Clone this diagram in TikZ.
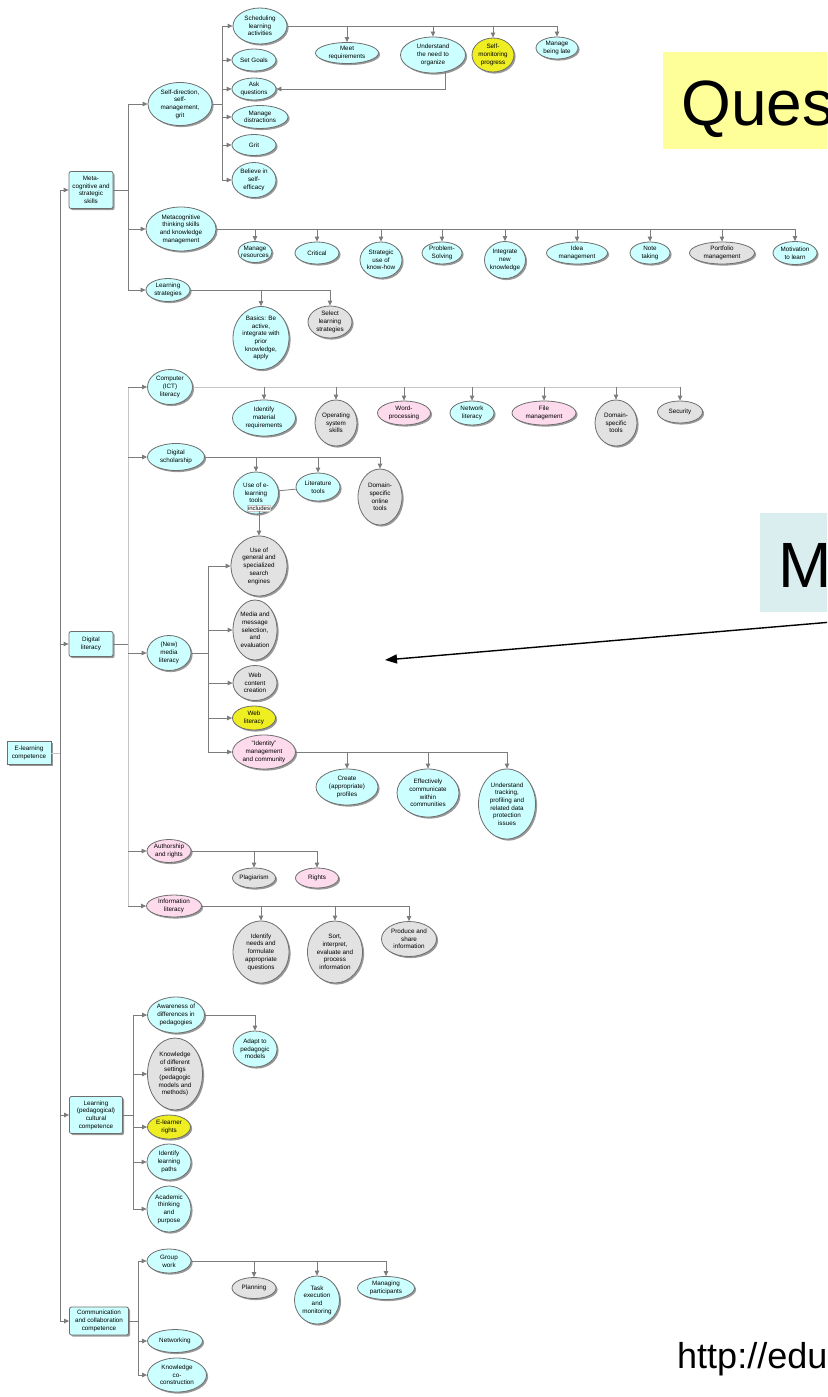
\documentclass[tikz,border=0pt]{standalone}
\usepackage{fontspec}
\setmainfont{Liberation Sans}
\usetikzlibrary{shapes.geometric,shadows,arrows.meta}

\definecolor{topiccyan}{HTML}{CCFFFF}
\definecolor{topicgray}{HTML}{E2E2E2}
\definecolor{topicpink}{HTML}{FDDAEC}
\definecolor{topicyellow}{HTML}{EEEE22}
\definecolor{edgegray}{HTML}{6E6E6E}
\definecolor{linegray}{HTML}{7C7C7C}
\definecolor{palegray}{HTML}{C6C6C6}
\definecolor{quesyellow}{HTML}{FFFF99}
\definecolor{mblue}{HTML}{DAEDEF}

\tikzset{
  topic/.style={ellipse, draw=edgegray, line width=0.8pt, inner sep=-3pt, align=center,
    font=\fontsize{6.3}{7.7}\selectfont,
    drop shadow={shadow xshift=1.6pt, shadow yshift=-1.6pt, fill=black, opacity=0.4}},
  cyn/.style={topic, fill=topiccyan},
  gry/.style={topic, fill=topicgray},
  pnk/.style={topic, fill=topicpink},
  ylw/.style={topic, fill=topicyellow},
  mainbox/.style={rectangle, rounded corners=2pt, draw=edgegray, line width=0.8pt,
    fill=topiccyan, inner sep=1pt, align=center, font=\fontsize{6.3}{7.7}\selectfont,
    drop shadow={shadow xshift=1.6pt, shadow yshift=-1.6pt, fill=black, opacity=0.4}},
  rootbox/.style={mainbox, rounded corners=0pt},
  wh/.style 2 args={minimum width=#1pt, minimum height=#2pt},
  link/.style={draw=linegray, line width=0.8pt},
  palelink/.style={draw=palegray, line width=0.8pt},
  tohead/.style={-{Triangle[length=5pt,width=4.5pt]}},
  bigtext/.style={font=\fontsize{64}{70}\selectfont, inner sep=0pt},
}

\begin{document}
\begin{tikzpicture}[x=1pt, y=-1pt]
    \useasboundingbox (0,0) rectangle (827,1397);
    \clip (0,0) rectangle (827,1397);

    % Slide boxes
    \fill[quesyellow] (663,52) rectangle (840,149);
    \node[bigtext, anchor=base west] (questxt) at (681,125) {Ques};
    \fill[mblue] (760,513) rectangle (840,612);
    \node[bigtext, anchor=base west] (mtxt) at (778,587) {M};
    \node[font=\fontsize{36}{40}\selectfont, inner sep=0pt, anchor=base west] (url) at (677,1368) {http://edu};

    % Root and main branches
    \node[rootbox, wh={44}{23}] (elc) at (29,753) {E-learning\\competence};
    \node[mainbox, wh={44}{37}] (metacog) at (91,190) {Meta-\\cognitive and\\strategic\\skills};
    \node[mainbox, wh={44}{25}] (diglit) at (91,644) {Digital\\literacy};
    \node[mainbox, wh={53}{37}] (learncult) at (96,1115) {Learning\\(pedagogical)\\cultural\\competence};
    \node[mainbox, wh={59}{28}] (commcoll) at (99,1321) {Communication\\and collaboration\\competence};

    % Self-direction
    \node[cyn, wh={64}{43}] (selfdir) at (180,104) {Self-direction,\\self-\\management,\\grit};
    \node[cyn, wh={54}{36}] (sched) at (260,26) {Scheduling\\learning\\activities};
    \node[cyn, wh={44}{22}] (goals) at (254,60) {Set Goals};
    \node[cyn, wh={44}{22}] (askq) at (254,89) {Ask\\questions};
    \node[cyn, wh={56}{23}] (distr) at (260,117) {Manage\\distractions};
    \node[cyn, wh={44}{21}] (grit) at (254,145) {Grit};
    \node[cyn, wh={44}{35}] (belief) at (254,180) {Believe in\\self-\\efficacy};
    \node[cyn, wh={63}{21}] (meet) at (347,53) {Meet\\requirements};
    \node[cyn, wh={65}{36}] (underst) at (433,55) {Understand\\the need to\\organize};
    \node[ylw, wh={42}{34}] (selfmon) at (493,55) {Self-\\monitoring\\progress};
    \node[cyn, wh={42}{22}] (late) at (557,48) {Manage\\being late};

    % Metacognitive thinking
    \node[cyn, wh={70}{44}] (mcthink) at (181,229) {Metacognitive\\thinking skills\\and knowledge\\management};
    \node[cyn, wh={34}{21}] (mgres) at (255,252) {Manage\\resources};
    \node[cyn, wh={44}{22}] (critical) at (317,253) {Critical};
    \node[cyn, wh={42}{36}] (strat) at (381,260) {Strategic\\use of\\know-how};
    \node[cyn, wh={40}{22}] (probsolv) at (442,253) {Problem-\\Solving};
    \node[cyn, wh={41}{37}] (integr) at (505,260) {Integrate\\new\\knowledge};
    \node[cyn, wh={61}{22}] (idea) at (577,253) {Idea\\management};
    \node[cyn, wh={40}{22}] (note) at (650,253) {Note\\taking};
    \node[gry, wh={65}{22}] (portf) at (722,253) {Portfolio\\management};
    \node[cyn, wh={44}{23}] (motiv) at (795,253) {Motivation\\to learn};

    % Learning strategies
    \node[cyn, wh={44}{23}] (lstrat) at (168,290) {Learning\\strategies};
    \node[cyn, wh={56}{63}] (basics) at (261,338) {Basics: Be\\active,\\integrate with\\prior\\knowledge,\\apply};
    \node[gry, wh={44}{32}] (selstrat) at (330,322) {Select\\learning\\strategies};

    % Computer literacy
    \node[cyn, wh={45}{35}] (complit) at (170,387) {Computer\\(ICT)\\literacy};
    \node[cyn, wh={63}{36}] (idmat) at (264,418) {Identify\\material\\requirements};
    \node[gry, wh={42}{46}] (opsys) at (336,423) {Operating\\system\\skills};
    \node[pnk, wh={53}{24}] (wordp) at (404,413) {Word-\\processing};
    \node[cyn, wh={44}{24}] (netlit) at (472,413) {Network\\literacy};
    \node[pnk, wh={64}{24}] (filem) at (544,413) {File\\management};
    \node[gry, wh={42}{46}] (domspec) at (616,423) {Domain-\\specific\\tools};
    \node[gry, wh={45}{22}] (security) at (680,412) {Security};

    % Digital scholarship
    \node[cyn, wh={57}{27}] (digsch) at (176,457) {Digital\\scholarship};
    \node[cyn, wh={45}{42}] (elearn) at (256,493) {Use of e-\\learning\\tools};
    \node[cyn, wh={44}{28}] (littools) at (318,487) {Literature\\tools};
    \node[gry, wh={44}{56}] (domonl) at (380,497) {Domain-\\specific\\online\\tools};
    \node[font=\fontsize{6}{7.6}\selectfont, fill=white, draw=palegray, line width=0.4pt, inner sep=0.6pt] (incl) at (259,508) {includes};

    % New media literacy
    \node[cyn, wh={44}{35}] (newmedia) at (169,653) {(New)\\media\\literacy};
    \node[gry, wh={56}{60}] (search) at (259,566) {Use of\\general and\\specialized\\search\\engines};
    \node[gry, wh={44}{60}] (media) at (255,630) {Media and\\message\\selection,\\and\\evaluation};
    \node[gry, wh={44}{35}] (webcont) at (255,683) {Web\\content\\creation};
    \node[ylw, wh={43}{24}] (weblit) at (254,718) {Web\\literacy};
    \node[pnk, wh={63}{34}] (identity) at (264,752) {"Identity"\\management\\and community};
    \node[cyn, wh={62}{36}] (create) at (347,787) {Create\\(appropriate)\\profiles};
    \node[cyn, wh={62}{48}] (effcomm) at (428,793) {Effectively\\communicate\\within\\communities};
    \node[cyn, wh={57}{70}] (tracking) at (507,804) {Understand\\tracking,\\profiling and\\related data\\protection\\issues};

    % Authorship, information literacy
    \node[pnk, wh={44}{23}] (author) at (169,851) {Authorship\\and rights};
    \node[gry, wh={43}{20}] (plag) at (254,878) {Plagiarism};
    \node[pnk, wh={43}{20}] (rights) at (317,878) {Rights};
    \node[pnk, wh={55}{22}] (infolit) at (174,906) {Information\\literacy};
    \node[gry, wh={56}{62}] (idneeds) at (261,952) {Identify\\needs and\\formulate\\appropriate\\questions};
    \node[gry, wh={55}{62}] (sortinfo) at (335,952) {Sort,\\interpret,\\evaluate and\\process\\information};
    \node[gry, wh={55}{35}] (produce) at (409,939) {Produce and\\share\\information};

    % Learning (pedagogical) cultural competence
    \node[cyn, wh={57}{36}] (aware) at (176,1015) {Awareness of\\differences in\\pedagogies};
    \node[cyn, wh={44}{36}] (adapt) at (255,1049) {Adapt to\\pedagogic\\models};
    \node[gry, wh={55}{72}] (knowset) at (175,1074) {Knowledge\\of different\\settings\\(pedagogic\\models and\\methods)};
    \node[ylw, wh={43}{24}] (elrights) at (169,1127) {E-learner\\rights};
    \node[cyn, wh={44}{36}] (idpaths) at (169,1162) {Identify\\learning\\paths};
    \node[cyn, wh={44}{46}] (academic) at (169,1209) {Academic\\thinking\\and\\purpose};

    % Communication and collaboration
    \node[cyn, wh={44}{24}] (groupw) at (169,1261) {Group\\work};
    \node[gry, wh={44}{21}] (planning) at (254,1288) {Planning};
    \node[cyn, wh={45}{48}] (taskexec) at (317,1300) {Task\\execution\\and\\monitoring};
    \node[cyn, wh={57}{23}] (managp) at (386,1288) {Managing\\participants};
    \node[cyn, wh={55}{23}] (networking) at (175,1341) {Networking};
    \node[cyn, wh={59}{34}] (knowco) at (177,1375) {Knowledge\\co-\\construction};

    % Buses
    \coordinate (rootbus) at (60,753);
    \coordinate (mcbus) at (128,190);
    \coordinate (sdbus) at (222,104);
    \coordinate (dlbus) at (128,644);
    \coordinate (nmbus) at (208,653);
    \coordinate (lcbus) at (133,1115);
    \coordinate (ccbus) at (138,1321);

    % Connectors
    \draw[palelink] (elc.east) -- (rootbus);
    \draw[link] (rootbus |- metacog.west) -- (rootbus |- commcoll.west);
    \foreach \n in {metacog,diglit,learncult,commcoll}
        \draw[link,tohead] (rootbus |- \n.west) -- (\n.west);

    \draw[link] (metacog.east) -- (mcbus);
    \foreach \n in {selfdir,mcthink,lstrat}
        \draw[link,tohead] (mcbus) |- (\n.west);

    \draw[link] (selfdir.east) -- (sdbus);
    \foreach \n in {sched,goals,askq,distr,grit,belief}
        \draw[link,tohead] (sdbus) |- (\n.west);
    \draw[link] (sched.east) -- (sched.east -| late.north);
    \foreach \n in {meet,underst,selfmon,late}
        \draw[link,tohead] (sched.east -| \n.north) -- (\n.north);
    \draw[link,tohead] ([xshift=12pt,yshift=2pt]underst.south) |- (askq.east);

    \draw[link] (mcthink.east) -- (mcthink.east -| motiv.north);
    \foreach \n in {mgres,critical,strat,probsolv,integr,idea,note,portf,motiv}
        \draw[link,tohead] (mcthink.east -| \n.north) -- (\n.north);

    \draw[link] (lstrat.east) -- (lstrat.east -| selstrat.north);
    \foreach \n in {basics,selstrat}
        \draw[link,tohead] (lstrat.east -| \n.north) -- (\n.north);

    \draw[link] (diglit.east) -- (dlbus);
    \draw[palelink] (dlbus |- complit.west) -- (dlbus |- infolit.west);
    \foreach \n in {complit,digsch,newmedia,author,infolit}
        \draw[link,tohead] (dlbus |- \n.west) -- (\n.west);

    \draw[palelink] (complit.east) -- (complit.east -| security.north);
    \foreach \n in {idmat,opsys,wordp,netlit,filem,domspec,security}
        \draw[link,tohead] (complit.east -| \n.north) -- (\n.north);

    \draw[link] (digsch.east) -- (digsch.east -| domonl.north);
    \foreach \n in {elearn,littools,domonl}
        \draw[link,tohead] (digsch.east -| \n.north) -- (\n.north);
    \draw[link] (elearn) -- (littools);
    \draw[link,tohead] (incl.south) -- (search.north);

    \draw[link] (newmedia.east) -- (nmbus);
    \foreach \n in {search,media,webcont,weblit,identity}
        \draw[link,tohead] (nmbus) |- (\n.west);

    \draw[link] (identity.east) -- (identity.east -| tracking.north);
    \foreach \n in {create,effcomm,tracking}
        \draw[link,tohead] (identity.east -| \n.north) -- (\n.north);

    \draw[link] (author.east) -- (author.east -| rights.north);
    \foreach \n in {plag,rights}
        \draw[link,tohead] (author.east -| \n.north) -- (\n.north);

    \draw[link] (infolit.east) -- (infolit.east -| produce.north);
    \foreach \n in {idneeds,sortinfo,produce}
        \draw[link,tohead] (infolit.east -| \n.north) -- (\n.north);

    \draw[link] (learncult.east) -- (lcbus);
    \foreach \n in {aware,knowset,elrights,idpaths,academic}
        \draw[link,tohead] (lcbus) |- (\n.west);
    \draw[link,tohead] (aware.east) -| (adapt.north);

    \draw[link] (commcoll.east) -- (ccbus);
    \foreach \n in {groupw,networking,knowco}
        \draw[link,tohead] (ccbus) |- (\n.west);
    \draw[link] (groupw.east) -- (groupw.east -| managp.north);
    \foreach \n in {planning,taskexec,managp}
        \draw[link,tohead] (groupw.east -| \n.north) -- (\n.north);

    % Pointer from the M box
    \coordinate (pstart) at (832,622);
    \coordinate (pend) at (385,660);
    \draw[line width=1.4pt, -{Triangle[length=12pt,width=9pt]}] (pstart) -- (pend);
\end{tikzpicture}
\end{document}
